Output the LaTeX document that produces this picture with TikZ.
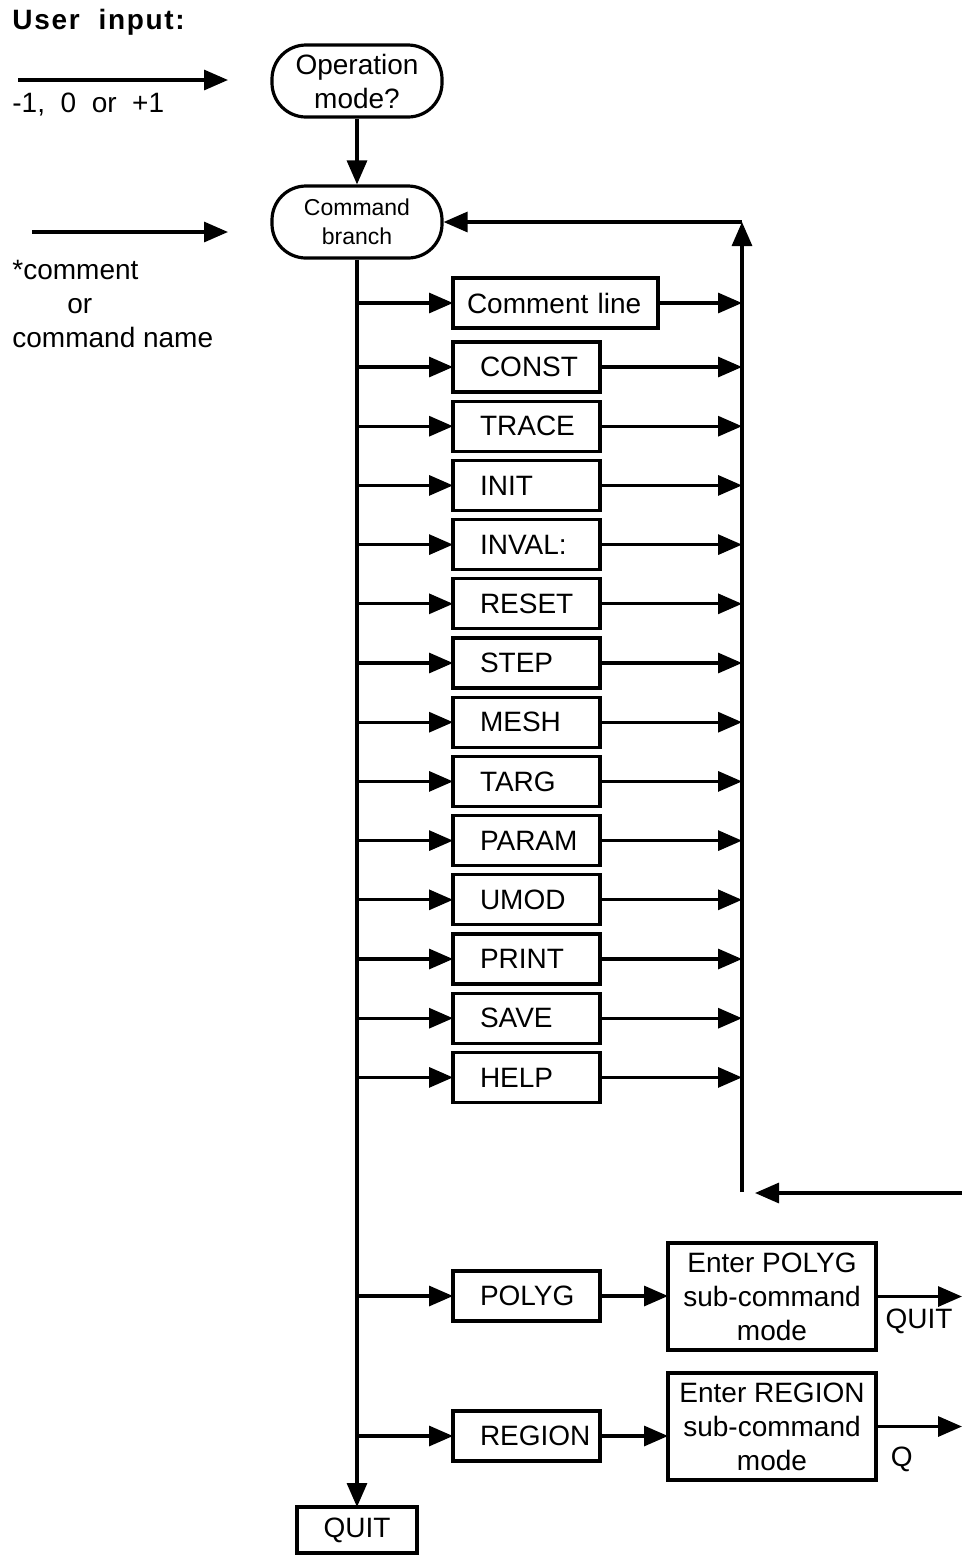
\documentclass[tikz,border=0pt]{standalone}
\usepackage{fontspec}
\setmainfont{Liberation Sans}
\usetikzlibrary{positioning,arrows.meta}

\begin{document}
\begin{tikzpicture}[
  x=0.5pt, y=-0.5pt,
  every node/.style={font=\fontsize{14}{17}\selectfont},
  mode/.style={rectangle, draw, rounded corners=17pt, line width=1.6pt,
               minimum width=85pt, minimum height=36pt, align=center, inner sep=1pt},
  cmd/.style={rectangle, draw, line width=1.6pt, outer sep=0pt,
              minimum width=73.5pt, minimum height=25pt,
              text width=46.5pt, inner xsep=13.5pt, align=left},
  sub/.style={rectangle, draw, line width=1.6pt, outer sep=0pt,
              minimum width=104pt, minimum height=53.5pt, align=center, inner sep=2pt},
  endbox/.style={rectangle, draw, line width=1.6pt, outer sep=0pt,
              minimum width=60pt, minimum height=23pt},
  lbl/.style={anchor=west, inner sep=0pt, align=left},
  arr/.style={-{Triangle[length=12pt,width=10pt]}, line width=1.6pt}
]
\useasboundingbox (0,0) rectangle (962,1555);

% user input side
\node[lbl, font=\fontsize{14}{17}\selectfont\bfseries\addfontfeature{LetterSpace=6}] (user) at (12,22) {User\ \ input:};
\coordinate (in1) at (18,80);
\coordinate (in1end) at (228,80);
\draw[arr](in1)--(in1end);
\node[lbl] (val) at (12,105) {-1,\ \ 0\ \ or\ \ +1};
\coordinate (in2) at (32,232);
\coordinate (in2end) at (228,232);
\draw[arr](in2)--(in2end);
\node[lbl] (cname) at (12,304) {*comment\\\hspace{27.5pt}or\\command name};

% mode and branch
\node[mode] (op) at (357,81) {Operation\\mode?};
\node[mode, font=\fontsize{11.5}{14.5}\selectfont] (cb) at (357,222) {Command\\branch};
\draw[arr](op)--(cb);

\coordinate (trunk) at (357,0);
\coordinate (rail)  at (742,0);
\coordinate (edge)  at (962,0);

% commands
\node[cmd, anchor=west, text width=88.5pt, inner xsep=7pt] (cline) at (453,303) {Comment line};
\node[cmd, anchor=west] (const) at (453,367) {CONST};
\node[cmd, below=4.6pt of const] (trace) {TRACE};
\node[cmd, below=4.6pt of trace] (init)  {INIT};
\node[cmd, below=4.6pt of init]  (inval) {INVAL:};
\node[cmd, below=4.6pt of inval] (reset) {RESET};
\node[cmd, below=4.6pt of reset] (stepc) {STEP};
\node[cmd, below=4.6pt of stepc] (mesh)  {MESH};
\node[cmd, below=4.6pt of mesh]  (targ)  {TARG};
\node[cmd, below=4.6pt of targ]  (param) {PARAM};
\node[cmd, below=4.6pt of param] (umod)  {UMOD};
\node[cmd, below=4.6pt of umod]  (print) {PRINT};
\node[cmd, below=4.6pt of print] (save)  {SAVE};
\node[cmd, below=4.6pt of save]  (help)  {HELP};

\node[cmd, anchor=west] (polyg)  at (453,1296) {POLYG};
\node[cmd, anchor=west] (region) at (453,1436) {REGION};
\node[sub] (epolyg)  at (772,1296.5) {Enter POLYG\\sub-command\\mode};
\node[sub] (eregion) at (772,1426.5) {Enter REGION\\sub-command\\mode};
\node[endbox] (quit) at (357,1530) {QUIT};

\draw[arr](cb.south)--(quit.north);

\draw[arr](trunk |- cline.west)--(cline.west);  \draw[arr](cline.east)--(rail |- cline.east);
\draw[arr](trunk |- const.west)--(const.west);  \draw[arr](const.east)--(rail |- const.east);
\draw[arr](trunk |- trace.west)--(trace.west);  \draw[arr](trace.east)--(rail |- trace.east);
\draw[arr](trunk |- init.west)--(init.west);    \draw[arr](init.east)--(rail |- init.east);
\draw[arr](trunk |- inval.west)--(inval.west);  \draw[arr](inval.east)--(rail |- inval.east);
\draw[arr](trunk |- reset.west)--(reset.west);  \draw[arr](reset.east)--(rail |- reset.east);
\draw[arr](trunk |- stepc.west)--(stepc.west);  \draw[arr](stepc.east)--(rail |- stepc.east);
\draw[arr](trunk |- mesh.west)--(mesh.west);    \draw[arr](mesh.east)--(rail |- mesh.east);
\draw[arr](trunk |- targ.west)--(targ.west);    \draw[arr](targ.east)--(rail |- targ.east);
\draw[arr](trunk |- param.west)--(param.west);  \draw[arr](param.east)--(rail |- param.east);
\draw[arr](trunk |- umod.west)--(umod.west);    \draw[arr](umod.east)--(rail |- umod.east);
\draw[arr](trunk |- print.west)--(print.west);  \draw[arr](print.east)--(rail |- print.east);
\draw[arr](trunk |- save.west)--(save.west);    \draw[arr](save.east)--(rail |- save.east);
\draw[arr](trunk |- help.west)--(help.west);    \draw[arr](help.east)--(rail |- help.east);
\draw[arr](trunk |- polyg.west)--(polyg.west);
\draw[arr](trunk |- region.west)--(region.west);

% loop back to the branch
\coordinate (railbot) at (742,1192);
\coordinate (railtop) at (742,222);
\draw[arr](railbot)--(railtop);
\draw[arr](railtop)--(cb.east);
\coordinate (retin)  at (962,1193);
\coordinate (retend) at (755,1193);
\draw[arr](retin)--(retend);

% sub-command modes
\draw[arr](polyg.east)--(polyg.east -| epolyg.west);
\draw[arr](region.east)--(region.east -| eregion.west);
\draw[arr](epolyg.east)--(epolyg.east -| edge) node[midway,below=2pt]{QUIT};
\draw[arr](eregion.east)--(eregion.east -| edge) node[pos=0.3,below=6pt]{Q};

\end{tikzpicture}
\end{document}
